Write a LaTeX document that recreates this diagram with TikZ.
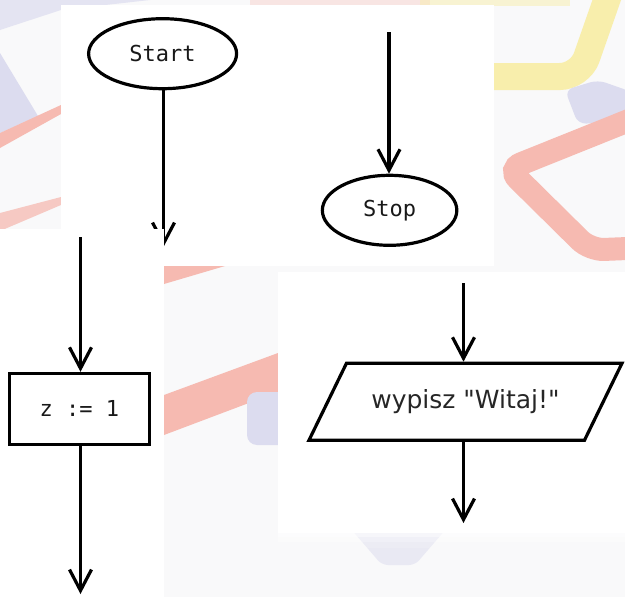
\documentclass[tikz,border=0pt]{standalone}
\usepackage{fontspec}
\newfontfamily\flowmono{DejaVu Sans Mono}
\newfontfamily\flowsans{DejaVu Sans}
\usetikzlibrary{arrows.meta,shapes.geometric}
\definecolor{bgbase}{RGB}{249,249,250}
\definecolor{softred}{RGB}{246,186,177}
\definecolor{softyellow}{RGB}{248,238,172}
\definecolor{softlav}{RGB}{220,220,239}
\definecolor{inkcol}{RGB}{0,0,0}
\begin{document}
\begin{tikzpicture}[x=1pt,y=-1pt,
  flow/.style={line width=3.2pt, draw=inkcol, -{Straight Barb[length=21pt,width=22pt]}},
  panel/.style={fill=white, draw=none},
  termbox/.style={ellipse, draw=inkcol, line width=3.2pt, inner sep=0pt, minimum height=70pt,
    font=\flowmono\fontsize{22}{22}\selectfont, text=black!90},
  procbox/.style={rectangle, draw=inkcol, line width=3.2pt, inner sep=0pt, minimum width=140pt,
    minimum height=71pt, font=\flowmono\fontsize{22}{22}\selectfont, text=black!90},
  iobox/.style={rectangle, inner sep=0pt, outer sep=0pt, minimum width=275.5pt, minimum height=77pt,
    font=\flowsans\fontsize{25}{25}\selectfont, text=black!85},
  parbox/.style={line width=3.2pt, draw=inkcol, line join=miter}]
\useasboundingbox (0,0) rectangle (625,597);
% ---------- faded background ----------
\fill[bgbase] (0,0) rectangle (625,597);
% top left lavender
\fill[softlav, opacity=.7] (0,0) -- (150,0) -- (61,10) -- (0,30) -- cycle;
\fill[softlav] (0,53) -- (38,116) -- (0,133) -- cycle;
% left red bands
\fill[softred] (0,133) -- (61,105) -- (61,114) -- (0,148) -- cycle;
\fill[softred, opacity=.75] (0,213) -- (61,197) -- (61,205) -- (0,231) -- cycle;
% faint tints along the top
\fill[softred, opacity=.3] (250,0) rectangle (430,6);
\fill[softyellow, opacity=.5] (420,0) rectangle (570,6);
% yellow band (top right)
\draw[softyellow, line width=27pt, rounded corners=20pt] (612,-15) -- (580,76.5) -- (470,76.5);
% lavender blob (right)
\fill[softlav, rounded corners=8pt] (565,90) -- (598,80) -- (632,92) -- (632,121) -- (578,124) -- cycle;
% red rounded square (right)
\draw[softred, line width=23pt, rounded corners=14pt] (640,116) -- (508,169) -- (590,250) -- (640,248);
% middle red bands
\fill[softred] (164,266) -- (225,266) -- (164,284) -- cycle;
\fill[softred] (164,395) -- (278,353) -- (278,392) -- (164,435) -- cycle;
% lavender blobs (middle and bottom)
\fill[softlav, rounded corners=10pt] (247,392) rectangle (290,445);
\fill[softlav, opacity=.55, rounded corners=6pt] (350,528) -- (447,528) -- (415,565) -- (382,565) -- cycle;
% ---------- top panel ----------
\fill[panel] (61,5) rectangle (494,266);
\node[termbox, minimum width=148pt] (start) at (162.6,53.7) {Start};
\node[termbox, minimum width=134.5pt] (stop) at (389.6,210.3) {Stop};
\coordinate (startend) at (163.5,247);
\coordinate (stopbeg) at (389,32);
\draw[flow] (startend |- start.south) -- (startend);
\draw[flow] (stopbeg) -- (stopbeg |- stop.north);
% ---------- left panel ----------
\fill[panel] (0,229) rectangle (163.8,597);
\coordinate (zbeg) at (80.5,237);
\node[procbox] (zset) at (79.4,408.9) {z := 1};
\coordinate (zend) at (80.5,594);
\draw[flow] (zbeg) -- (zbeg |- zset.north);
\draw[flow] (zbeg |- zset.south) -- (zend);
% ---------- right panel ----------
\fill[panel] (278,272) rectangle (625,533);
\fill[white, opacity=.6] (278,533) rectangle (625,537);
\fill[white, opacity=.35] (278,537) rectangle (625,542);
\fill[white, opacity=.15] (278,542) rectangle (625,548);
\coordinate (wbeg) at (463.5,283);
\node[iobox] (wyp) at (465.5,401.7) {wypisz "Witaj!"};
\draw[parbox] ([xshift=18.75pt]wyp.north west) -- ([xshift=18.75pt]wyp.north east)
  -- ([xshift=-18.75pt]wyp.south east) -- ([xshift=-18.75pt]wyp.south west) -- cycle;
\coordinate (wend) at (463.5,523);
\draw[flow, shorten >=1.5pt] (wbeg) -- (wbeg |- wyp.north);
\draw[flow] (wend |- wyp.south) -- (wend);
\end{tikzpicture}
\end{document}
